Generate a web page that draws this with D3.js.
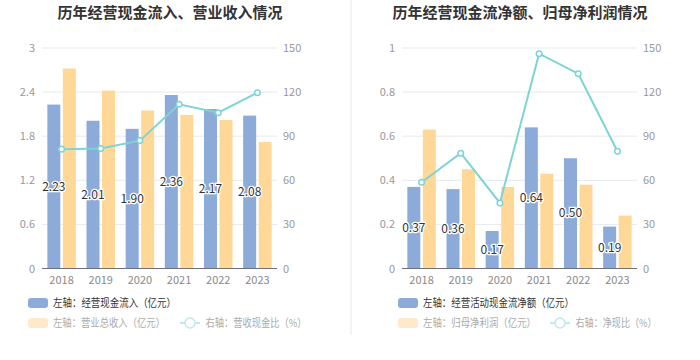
<!DOCTYPE html>
<html><head><meta charset="utf-8">
<script src="https://cdn.jsdelivr.net/npm/d3@7"></script>
<style>
body{margin:0;background:#fff;}
svg{display:block;font-family:"Microsoft YaHei","Noto Sans CJK SC",sans-serif;}
</style></head>
<body><svg id="c" width="700" height="360"></svg>
<script>
const years = ["2018","2019","2020","2021","2022","2023"];
// Left chart
const cashIn = [2.23, 2.01, 1.90, 2.36, 2.17, 2.08];
const revenue = [2.72, 2.42, 2.15, 2.09, 2.02, 1.72];
const cashRatio = [81.2, 81.6, 87.0, 111.7, 106.0, 119.6];
const leftTicksL = [0, 0.6, 1.2, 1.8, 2.4, 3];
const rightTicks = [0, 30, 60, 90, 120, 150];
// Right chart
const netCash = [0.37, 0.36, 0.17, 0.64, 0.50, 0.19];
const netProfit = [0.63, 0.45, 0.37, 0.43, 0.38, 0.24];
const netRatio = [58.7, 78.4, 44.6, 146.1, 132.5, 79.8];
const leftTicksR = [0, 0.2, 0.4, 0.6, 0.8, 1];

const svg = d3.select("#c");
const C = {blue:"#8cabd9", orange:"#ffd898", line:"#7dd4d6"};

svg.append("rect").attr("x",350).attr("y",0).attr("width",2).attr("height",335).attr("fill","#f3f3f3");

function chart(o){
  const g = svg.append("g");
  g.append("text").attr("x",o.cx).attr("y",18).attr("text-anchor","middle")
    .attr("font-size",15).attr("font-weight","bold").attr("fill","#333").text(o.title);
  const x = d3.scaleBand().domain(years).range([o.x0,o.x1]);
  const yL = d3.scaleLinear().domain([0,o.lmax]).range([268.5,48]);
  const yR = d3.scaleLinear().domain([0,150]).range([268.5,48]);
  g.selectAll(".grid").data(o.lticks.slice(1)).join("line")
    .attr("x1",o.x0).attr("x2",o.x1).attr("y1",d=>yL(d)).attr("y2",d=>yL(d))
    .attr("stroke","#e6e9f2").attr("stroke-width",1);
  g.selectAll(".ll").data(o.lticks).join("text")
    .attr("x",o.x0-7).attr("y",d=>yL(d)+4).attr("text-anchor","end")
    .attr("font-size",11).attr("fill","#999").text(d=>d);
  g.selectAll(".rl").data(rightTicks).join("text")
    .attr("x",o.x1+6).attr("y",d=>yR(d)+4).attr("text-anchor","start")
    .attr("font-size",11).attr("fill","#999").text(d=>d);
  const bw = 13, gap = 2.5;
  const cx = d => x(d)+x.bandwidth()/2;
  g.selectAll(".b1").data(o.a).join("rect")
    .attr("x",(d,i)=>cx(years[i])-gap/2-bw).attr("width",bw)
    .attr("y",d=>yL(d)).attr("height",d=>yL(0)-yL(d)).attr("fill",C.blue);
  g.selectAll(".b2").data(o.b).join("rect")
    .attr("x",(d,i)=>cx(years[i])+gap/2).attr("width",bw)
    .attr("y",d=>yL(d)).attr("height",d=>yL(0)-yL(d)).attr("fill",C.orange);
  g.append("line").attr("x1",o.x0).attr("x2",o.x1).attr("y1",268.5).attr("y2",268.5)
    .attr("stroke","#6e7079").attr("stroke-width",1);
  g.selectAll(".xl").data(years).join("text")
    .attr("x",d=>cx(d)).attr("y",284).attr("text-anchor","middle")
    .attr("font-size",11).attr("fill","#888").text(d=>d);
  const line = d3.line().x((d,i)=>cx(years[i])).y(d=>yR(d));
  g.append("path").datum(o.r).attr("d",line).attr("fill","none")
    .attr("stroke",C.line).attr("stroke-width",2);
  g.selectAll(".pt").data(o.r).join("circle")
    .attr("cx",(d,i)=>cx(years[i])).attr("cy",d=>yR(d)).attr("r",2.8)
    .attr("fill","#fff").attr("stroke",C.line).attr("stroke-width",1.5);
  g.selectAll(".lab").data(o.a).join("text")
    .attr("x",(d,i)=>cx(years[i])-gap/2-bw/2).attr("y",d=>(yL(d)+yL(0))/2+4)
    .attr("text-anchor","middle").attr("font-size",12).attr("fill","#333")
    .attr("stroke","#fff").attr("stroke-width",2.5).attr("paint-order","stroke")
    .text(d=>d.toFixed(2));
  // legend
  const L = o.leg;
  g.append("rect").attr("x",L.x).attr("y",298).attr("width",20).attr("height",10).attr("rx",3).attr("fill",C.blue);
  g.append("text").attr("x",L.x+25).attr("y",307).attr("font-size",11).attr("fill","#333")
    .attr("textLength",L.w1).attr("lengthAdjust","spacingAndGlyphs").text(o.l1);
  g.append("rect").attr("x",L.x).attr("y",318).attr("width",20).attr("height",10).attr("rx",3).attr("fill","#ffe9c8");
  g.append("text").attr("x",L.x+25).attr("y",327).attr("font-size",11).attr("fill","#aaa")
    .attr("textLength",L.w2).attr("lengthAdjust","spacingAndGlyphs").text(o.l2);
  g.append("line").attr("x1",L.lx).attr("x2",L.lx+20).attr("y1",323).attr("y2",323).attr("stroke","#bfe9ea").attr("stroke-width",2);
  g.append("circle").attr("cx",L.lx+10).attr("cy",323).attr("r",5).attr("fill","#fff").attr("stroke","#bfe9ea").attr("stroke-width",1.5);
  g.append("text").attr("x",L.lx+25.5).attr("y",327).attr("font-size",11).attr("fill","#aaa")
    .attr("textLength",L.w3).attr("lengthAdjust","spacingAndGlyphs").text(o.l3);
}

chart({title:"历年经营现金流入、营业收入情况", cx:170, x0:42, x1:277, lmax:3, lticks:leftTicksL,
  a:cashIn, b:revenue, r:cashRatio, leg:{x:28, lx:180, w1:123, w2:112, w3:101},
  l1:"左轴：经营现金流入（亿元）", l2:"左轴：营业总收入（亿元）", l3:"右轴：营收现金比（%）"});
chart({title:"历年经营现金流净额、归母净利润情况", cx:520, x0:402, x1:637, lmax:1, lticks:leftTicksR,
  a:netCash, b:netProfit, r:netRatio, leg:{x:398, lx:550, w1:151, w2:113, w3:81},
  l1:"左轴：经营活动现金流净额（亿元）", l2:"左轴：归母净利润（亿元）", l3:"右轴：净现比（%）"});
</script></body></html>
